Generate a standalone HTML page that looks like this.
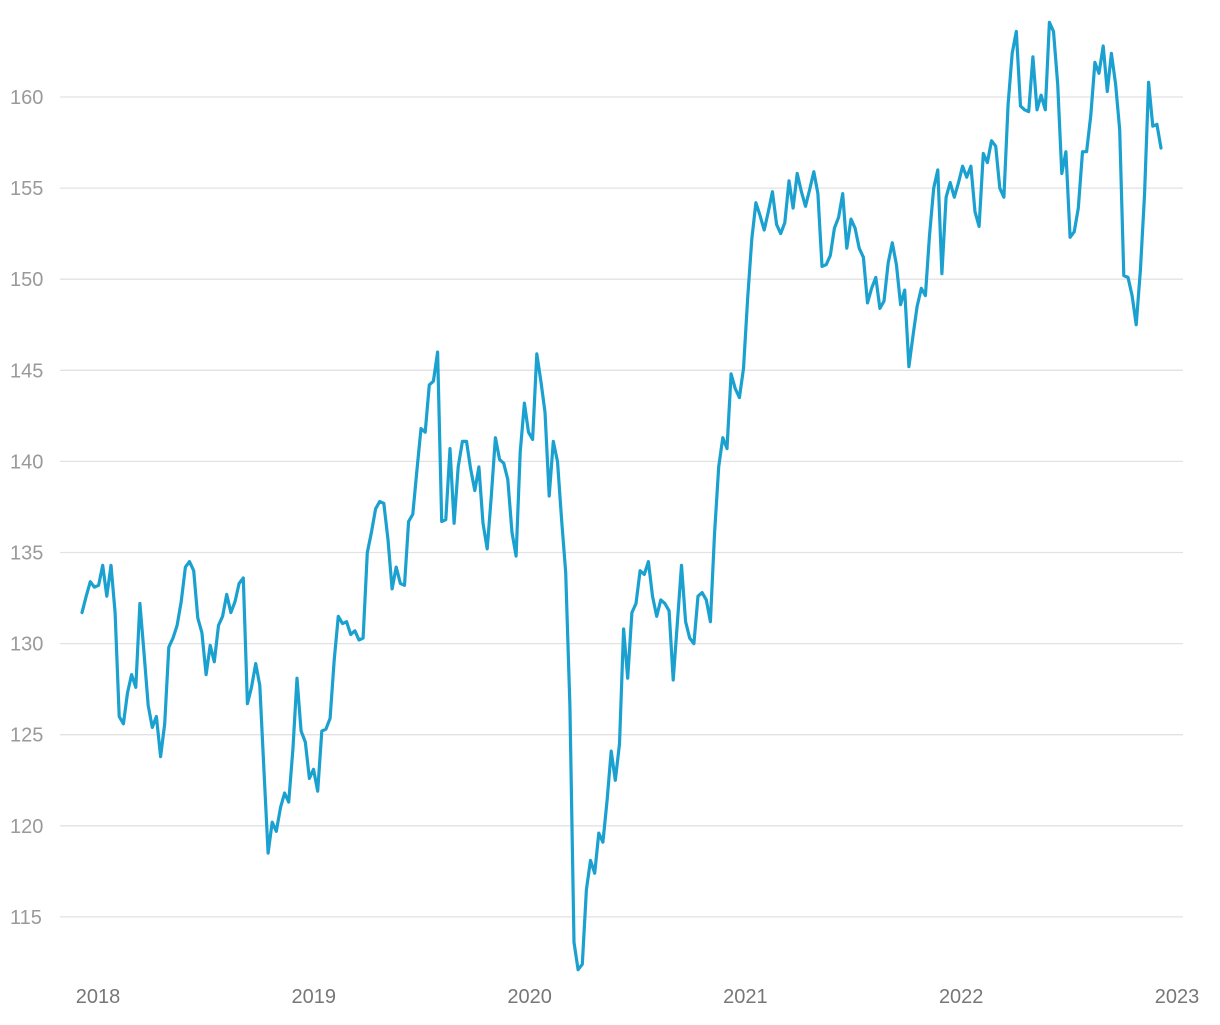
<!DOCTYPE html>
<html><head><meta charset="utf-8"><style>
html,body{margin:0;padding:0;background:#fff;}
svg text{font-family:"Liberation Sans",sans-serif;}
</style></head><body>
<svg id="chart" width="1220" height="1020" viewBox="0 0 1220 1020" xmlns="http://www.w3.org/2000/svg">
<g id="grid"></g>
<g id="yaxis"></g>
<g id="xaxis"></g>
<path id="series" fill="none" stroke="#1ba1d0" stroke-width="3.2" stroke-linejoin="round" stroke-linecap="round"/>
</svg>
<script>
const yTicks=[115,120,125,130,135,140,145,150,155,160];
const xTicks=[2018,2019,2020,2021,2022,2023];
const startYear=2017.926;
const endYear=2022.926;
const values=[131.7,132.6,133.4,133.1,133.2,134.3,132.6,134.3,131.7,126.0,125.6,127.3,128.3,127.6,132.2,129.5,126.6,125.4,126.0,123.8,125.6,129.8,130.3,131.0,132.3,134.2,134.5,134.0,131.4,130.6,128.3,129.9,129.0,131.0,131.5,132.7,131.7,132.3,133.3,133.6,126.7,127.6,128.9,127.7,123.1,118.5,120.2,119.7,121.0,121.8,121.3,124.2,128.1,125.2,124.6,122.6,123.1,121.9,125.2,125.3,125.9,129.1,131.5,131.1,131.2,130.5,130.7,130.2,130.3,135.0,136.1,137.4,137.8,137.7,135.7,133.0,134.2,133.3,133.2,136.7,137.1,139.5,141.8,141.6,144.2,144.4,146.0,136.7,136.8,140.7,136.6,139.7,141.1,141.1,139.6,138.4,139.7,136.6,135.2,138.1,141.3,140.1,139.9,139.0,136.1,134.8,140.5,143.2,141.6,141.2,145.9,144.4,142.7,138.1,141.1,140.0,136.8,133.9,126.6,113.6,112.1,112.4,116.5,118.1,117.4,119.6,119.1,121.4,124.1,122.5,124.5,130.8,128.1,131.7,132.2,134.0,133.8,134.5,132.6,131.5,132.4,132.2,131.8,128.0,131.1,134.3,131.2,130.3,130.0,132.6,132.8,132.4,131.2,136.0,139.7,141.3,140.7,144.8,144.0,143.5,145.1,148.9,152.2,154.2,153.5,152.7,153.7,154.8,153.0,152.5,153.1,155.4,153.9,155.8,154.8,154.0,154.9,155.9,154.7,150.7,150.8,151.3,152.8,153.4,154.7,151.7,153.3,152.8,151.7,151.2,148.7,149.5,150.1,148.4,148.8,150.9,152.0,150.8,148.6,149.4,145.2,146.9,148.5,149.5,149.1,152.4,155.0,156.0,150.3,154.5,155.3,154.5,155.3,156.2,155.6,156.2,153.7,152.9,156.9,156.4,157.6,157.3,155.0,154.5,159.6,162.4,163.6,159.5,159.3,159.2,162.2,159.3,160.1,159.3,164.1,163.6,160.7,155.8,157.0,152.3,152.6,153.9,157.0,157.0,159.0,161.9,161.3,162.8,160.3,162.4,160.7,158.2,150.2,150.1,149.1,147.5,150.5,154.6,160.8,158.4,158.5,157.2];

function yScale(v){return 97+(160-v)*18.22;}
function xScale(yr){return 98+(yr-2018)*215.8;}
const NS="http://www.w3.org/2000/svg";
const grid=document.getElementById('grid'),ya=document.getElementById('yaxis'),xa=document.getElementById('xaxis');
yTicks.forEach(t=>{
  const l=document.createElementNS(NS,'line');
  
  
  l.setAttribute('x1',60);l.setAttribute('x2',1183);
  l.setAttribute('y1',yScale(t));l.setAttribute('y2',yScale(t));
  l.setAttribute('stroke','#e2e2e2');l.setAttribute('stroke-width','1.3');
  grid.appendChild(l);
  const tx=document.createElementNS(NS,'text');
  
  
  tx.setAttribute('x',10);tx.setAttribute('y',yScale(t)+7);
  tx.setAttribute('fill','#9a9a9a');tx.setAttribute('font-size','20');
  tx.textContent=t;ya.appendChild(tx);
});
xTicks.forEach(t=>{
  const tx=document.createElementNS(NS,'text');
  
  
  tx.setAttribute('x',xScale(t));tx.setAttribute('y',1003);
  tx.setAttribute('text-anchor','middle');
  tx.setAttribute('fill','#777');tx.setAttribute('font-size','20');
  tx.textContent=t;xa.appendChild(tx);
});
const n=values.length;
let d='';
values.forEach((v,i)=>{
  const yr=startYear+(endYear-startYear)*i/(n-1);
  d+=(i?'L':'M')+xScale(yr).toFixed(1)+','+yScale(v).toFixed(1);
});
document.getElementById('series').setAttribute('d',d);
</script>
</body></html>
